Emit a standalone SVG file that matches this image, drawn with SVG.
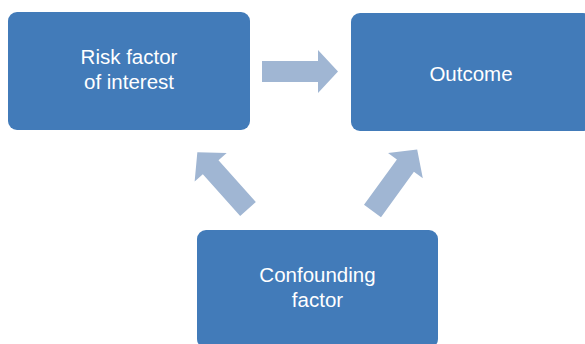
<svg xmlns="http://www.w3.org/2000/svg" width="585" height="344" viewBox="0 0 585 344">
<defs>
<style>
.box{fill:#427BB9;}
.lbl{fill:#FFFFFF;font-family:"Liberation Sans",Arial,sans-serif;font-size:20.5px;text-anchor:middle;}
.arr{fill:#A0B6D3;}
</style>
<polygon id="arrowShape" points="0,-10.5 56,-10.5 56,-21.5 76,0 56,21.5 56,10.5 0,10.5"/>
</defs>
<rect width="585" height="344" fill="#FFFFFF"/>
<g id="connectors">
<use href="#arrowShape" class="arr" transform="translate(262,71.5)"/>
<use href="#arrowShape" class="arr" transform="translate(248,209) rotate(-131.8)"/>
<use href="#arrowShape" class="arr" transform="translate(372.5,211) rotate(-54)"/>
</g>
<g id="risk-factor">
<rect class="box" x="8" y="12" width="242" height="118" rx="9"/>
<text class="lbl" x="129" y="64">Risk factor</text>
<text class="lbl" x="129" y="89">of interest</text>
</g>
<g id="outcome">
<rect class="box" x="351" y="13" width="241" height="118" rx="9"/>
<text class="lbl" x="471" y="81">Outcome</text>
</g>
<g id="confounding-factor">
<rect class="box" x="197" y="230" width="241" height="118" rx="9"/>
<text class="lbl" x="317.5" y="282">Confounding</text>
<text class="lbl" x="317.5" y="307">factor</text>
</g>
</svg>
